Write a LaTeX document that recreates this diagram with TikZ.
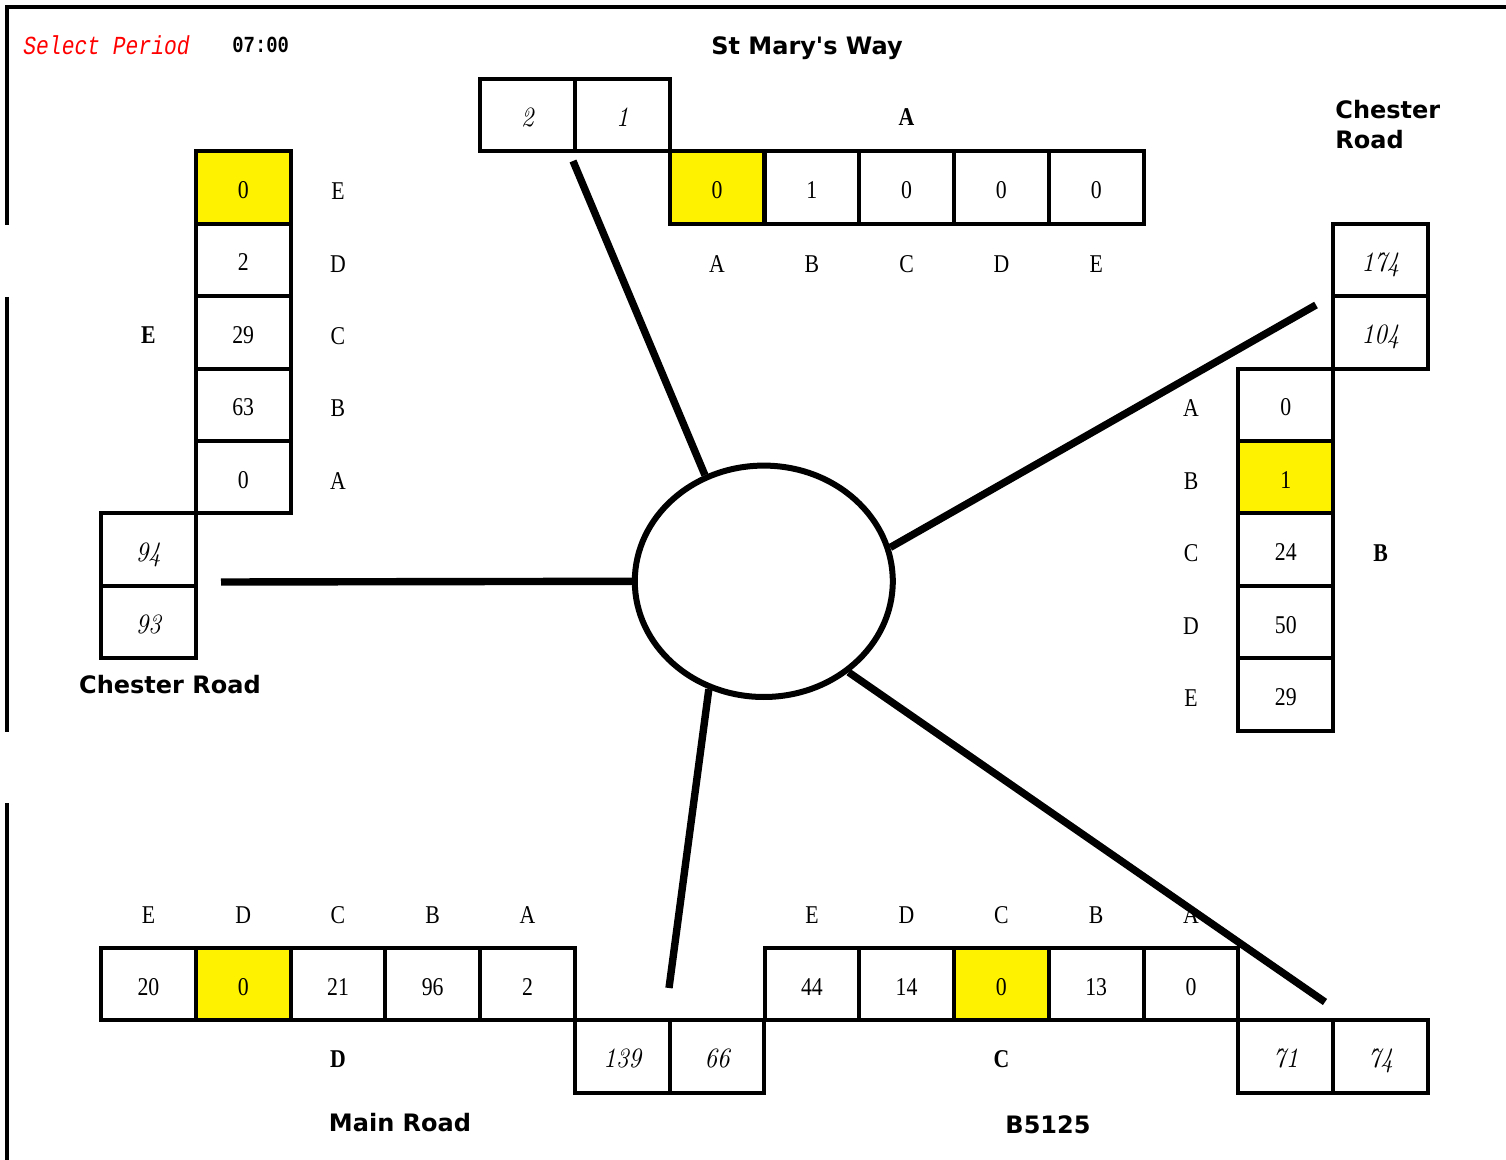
\documentclass[tikz,border=0pt]{standalone}
\usepackage{fontspec}
\usetikzlibrary{shapes.geometric}
\newfontfamily\cellfont{Liberation Serif}[FakeStretch=0.85]
\newfontfamily\lblfont{DejaVu Sans}
\newfontfamily\monofont{Liberation Mono}[FakeStretch=0.82]
\newfontfamily\itnumfont{lmroman10-italic}[Extension=.otf,FakeStretch=0.88]
\tikzset{
  cell/.style={draw, line width=2pt, minimum width=47.39pt, minimum height=36.2pt, inner sep=0pt, text height=11pt, text depth=0pt, font=\cellfont\fontsize{12.8}{14}\selectfont},
  hl/.style={cell, fill=yellow},
  icell/.style={cell, text height=11.5pt, font=\itnumfont\fontsize{14}{16}\selectfont},
  lab/.style={inner sep=0pt, font=\cellfont\fontsize{12.8}{14}\selectfont},
  grp/.style={inner sep=0pt, font=\cellfont\bfseries\fontsize{12.8}{14}\selectfont},
  road/.style={inner sep=0pt, font=\lblfont\bfseries\fontsize{12}{15}\selectfont},
  leg/.style={line width=3.7pt},
  frame/.style={line width=2pt}
}
\begin{document}
\begin{tikzpicture}[x=0.5pt, y=-0.5pt]
\useasboundingbox (0,0) rectangle (1506,1160);
% frame
\draw[frame] (7,225) -- (7,7) -- (1506,7);
\draw[frame] (7,297) -- (7,732);
\draw[frame] (7,803) -- (7,1160);
% header
\node[anchor=west, inner sep=0pt, text=red, font=\monofont\itshape\fontsize{13}{15}\selectfont] (sp) at (23,45) {Select Period};
\node[anchor=west, inner sep=0pt, font=\monofont\bfseries\fontsize{11.5}{14}\selectfont] (tm) at (232,45) {07:00};
% junction
\node[draw, ellipse, line width=3pt, minimum width=129pt, minimum height=115.7pt, inner sep=0pt] (j) at (763.8,581.3) {};
% ---- Arm A (St Mary's Way)
\node[road] (rA) at (807,48) {St Mary's Way};
\node[grp] (gA) at (906.6,117) {A};
\node[icell] (a2) at (527.5,115.2) {2};
\node[icell] (a1) at (622.3,115.2) {1};
\node[hl]   (aA) at (717.1,187.6) {0};
\node[cell] (aB) at (811.9,187.6) {1};
\node[cell] (aC) at (906.6,187.6) {0};
\node[cell] (aD) at (1001.4,187.6) {0};
\node[cell] (aE) at (1096.2,187.6) {0};
\node[lab] (laA) at (717.1,264) {A};
\node[lab] (laB) at (811.9,264) {B};
\node[lab] (laC) at (906.6,264) {C};
\node[lab] (laD) at (1001.4,264) {D};
\node[lab] (laE) at (1096.2,264) {E};
% ---- Arm E (Chester Road, left)
\node[road] (rE) at (170,685) {Chester Road};
\node[grp] (gE) at (148.4,335) {E};
\node[hl]   (eE) at (243.2,187.6) {0};
\node[cell] (eD) at (243.2,260.0) {2};
\node[cell] (eC) at (243.2,332.4) {29};
\node[cell] (eB) at (243.2,404.8) {63};
\node[cell] (eA) at (243.2,477.2) {0};
\node[icell] (e94) at (148.4,549.6) {94};
\node[icell] (e93) at (148.4,622.0) {93};
\node[lab] (leE) at (338,191) {E};
\node[lab] (leD) at (338,264) {D};
\node[lab] (leC) at (338,336) {C};
\node[lab] (leB) at (338,408) {B};
\node[lab] (leA) at (338,481) {A};
% ---- Arm B (Chester Road, right)
\node[road, anchor=west, align=left] (rB) at (1335,125) {Chester\\Road};
\node[grp] (gB) at (1380.6,553) {B};
\node[icell] (b174) at (1380.6,260.0) {174};
\node[icell] (b104) at (1380.6,332.4) {104};
\node[cell] (bA) at (1285.8,404.8) {0};
\node[hl]   (bB) at (1285.8,477.2) {1};
\node[cell] (bC) at (1285.8,549.6) {24};
\node[cell] (bD) at (1285.8,622.0) {50};
\node[cell] (bE) at (1285.8,694.4) {29};
\node[lab] (lbA) at (1191,408) {A};
\node[lab] (lbB) at (1191,481) {B};
\node[lab] (lbC) at (1191,553) {C};
\node[lab] (lbD) at (1191,626) {D};
\node[lab] (lbE) at (1191,698) {E};
% ---- Arm D (Main Road)
\node[road] (rD) at (400,1123) {Main Road};
\node[grp] (gD) at (338,1059) {D};
\node[cell] (dE) at (148.4,984) {20};
\node[hl]   (dD) at (243.2,984) {0};
\node[cell] (dC) at (338.0,984) {21};
\node[cell] (dB) at (432.7,984) {96};
\node[cell] (dA) at (527.5,984) {2};
\node[icell] (d139) at (622.3,1056.4) {139};
\node[icell] (d66) at (717.1,1056.4) {66};
\node[lab] (ldE) at (148.4,915) {E};
\node[lab] (ldD) at (243.2,915) {D};
\node[lab] (ldC) at (338.0,915) {C};
\node[lab] (ldB) at (432.7,915) {B};
\node[lab] (ldA) at (527.5,915) {A};
% ---- Arm C (B5125)
\node[road] (rC) at (1048,1125) {B5125};
\node[grp] (gC) at (1001.4,1059) {C};
\node[cell] (cE) at (811.9,984) {44};
\node[cell] (cD) at (906.6,984) {14};
\node[hl]   (cC) at (1001.4,984) {0};
\node[cell] (cB) at (1096.2,984) {13};
\node[cell] (cA) at (1191.0,984) {0};
\node[icell] (c71) at (1285.8,1056.4) {71};
\node[icell] (c74) at (1380.6,1056.4) {74};
\node[lab] (lcE) at (811.9,915) {E};
\node[lab] (lcD) at (906.6,915) {D};
\node[lab] (lcC) at (1001.4,915) {C};
\node[lab] (lcB) at (1096.2,915) {B};
\node[lab] (lcA) at (1191.0,915) {A};
% ---- legs
\coordinate (tA) at (573,161);
\coordinate (tB) at (1316,305);
\coordinate (tE) at (221,582);
\coordinate (tD) at (669,988);
\coordinate (tC) at (1325,1002);
\draw[leg] (tA) -- (j.119.6);
\draw[leg] (tB) -- (j.15.3);
\draw[leg] (tE) -- (j.180);
\draw[leg] (tD) -- (j.243.2);
\draw[leg] (tC) -- (j.313.2);
\end{tikzpicture}
\end{document}
